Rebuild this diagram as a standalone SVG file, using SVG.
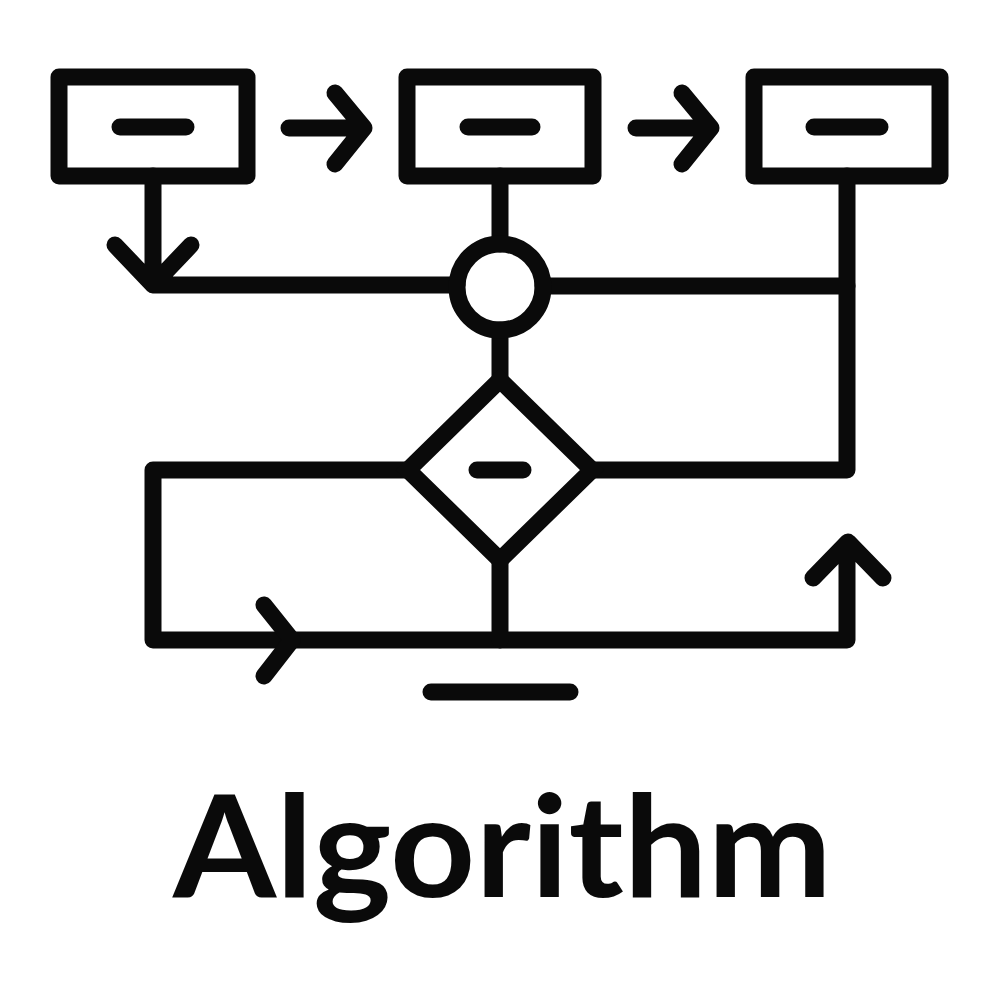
<svg xmlns="http://www.w3.org/2000/svg" width="1000" height="1000" viewBox="0 0 1000 1000">
<style>
.s{fill:none;stroke:#0a0a0a;stroke-width:17;stroke-linecap:round;stroke-linejoin:round}
.m{stroke-linejoin:miter}
.t{font-family:Lato,"Open Sans","Liberation Sans",sans-serif;font-weight:bold;font-size:142px;fill:#0a0a0a}
</style>
<rect width="1000" height="1000" fill="#fff"/>
<g id="connectors" class="s">
<path d="M289 128H362M335 93L364 128L335 164"/>
<path d="M636 128H709M682 93L711 128L682 164"/>
<path d="M153 176V285H457M115 245L153 285L191 245"/>
<path d="M500 176V244"/>
<path d="M543 286H847"/>
<path d="M847 176V470H592"/>
<path d="M500 330V380"/>
<path d="M408 470H153V640H847V543M813 578L848 542L883 578"/>
<path d="M500 560V640"/>
<path d="M264 605L292 640L264 676"/>
</g>
<g id="box1"><rect class="s" x="59" y="77" width="188" height="99"/><path class="s" d="M120 127H186"/></g>
<g id="box2"><rect class="s" x="407" y="77" width="186" height="99"/><path class="s" d="M468 127H532"/></g>
<g id="box3"><rect class="s" x="754" y="77" width="186" height="99"/><path class="s" d="M814 127H880"/></g>
<g id="circle"><circle class="s" cx="500" cy="287" r="43"/></g>
<g id="diamond"><polygon class="s m" points="500,380 592,470 500,560 408,470"/><path class="s" d="M477 470H523"/></g>
<g id="base"><path class="s" d="M431 692H570"/></g>
<text class="t" x="173" y="897" textLength="659" lengthAdjust="spacingAndGlyphs">Algorithm</text>
</svg>
